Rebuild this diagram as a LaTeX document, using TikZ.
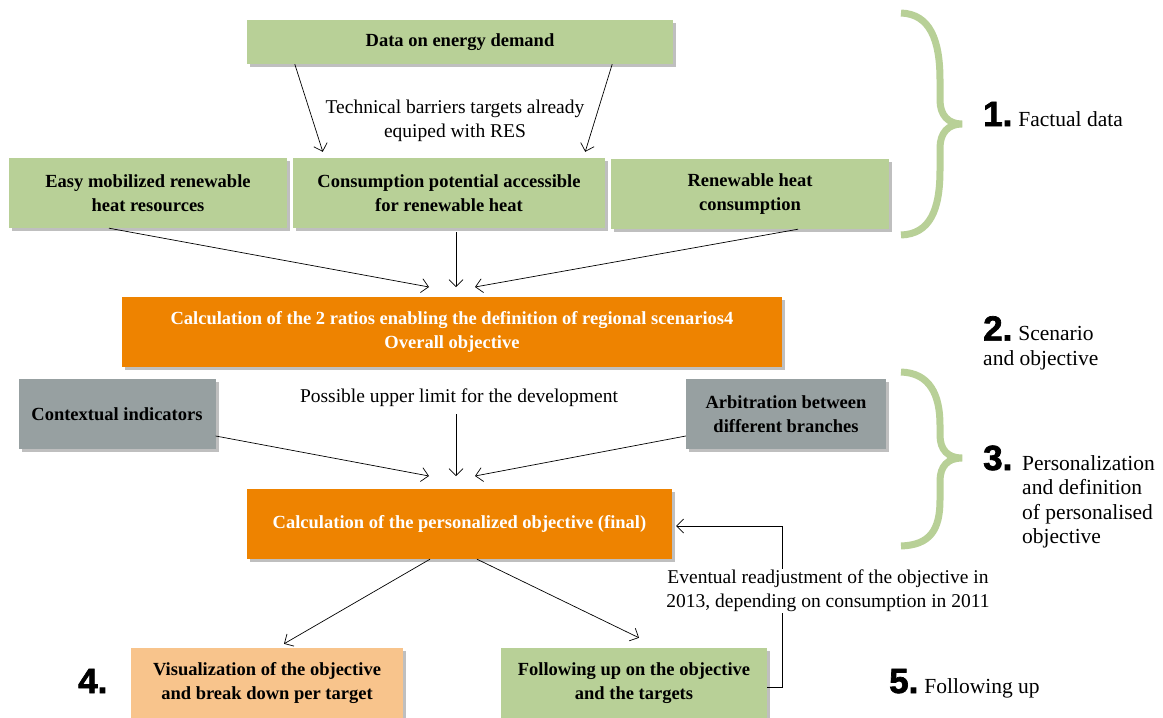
\documentclass[tikz,border=0pt]{standalone}
\usepackage{fontspec}
\setmainfont{Liberation Serif}
\newfontfamily\numfont[BoldFeatures={FakeBold=2}]{Liberation Sans}
\usetikzlibrary{shadows,arrows.meta}
\definecolor{leaf}{RGB}{184,208,151}
\definecolor{pumpkin}{RGB}{238,131,0}
\definecolor{slate}{RGB}{151,160,161}
\definecolor{peach}{RGB}{248,196,140}
\newcommand\bignum[1]{{\numfont\bfseries\fontsize{35}{35}\selectfont #1}}

\begin{document}
\begin{tikzpicture}[x=1pt,y=-1pt]
			\tikzset{
			  BoxStyle/.style = { inner sep=2pt, align=center,
			                      font = \bfseries\fontsize{18.5}{24}\selectfont,
			                      drop shadow = {shadow xshift=3pt, shadow yshift=-3pt,
			                                     fill=black, opacity=.25} },
			  GreenBox/.style = { BoxStyle, fill=leaf },
			  OrangeBox/.style = { BoxStyle, fill=pumpkin, text=white },
			  GreyBox/.style = { BoxStyle, fill=slate },
			  PeachBox/.style = { BoxStyle, fill=peach },
			  NoteStyle/.style = { align=center, inner sep=1pt,
			                       font = \fontsize{19.5}{24}\selectfont },
			  StepStyle/.style = { inner sep=0pt, align=left,
			                       font = \fontsize{21.5}{24.5}\selectfont },
			  EdgeStyle/.style = { line width=0.7pt,
			                       -{Straight Barb[length=7pt,width=14pt]} },
			  BraceStyle/.style = { draw=leaf, line width=7pt } }
			\useasboundingbox (0,0) rectangle (1163,718);
			\node[GreenBox, minimum width=426pt, minimum height=44pt] (demand) at (460,42) {Data on energy demand};
			\node[GreenBox, minimum width=278pt, minimum height=70pt] (mobil) at (148,193) {Easy mobilized renewable\\heat resources};
			\node[GreenBox, minimum width=312pt, minimum height=70pt] (potential) at (449,193) {Consumption potential accessible\\for renewable heat};
			\node[GreenBox, minimum width=278pt, minimum height=70pt] (renewcons) at (750,194) {Renewable heat\\consumption};
			\node[OrangeBox, minimum width=660pt, minimum height=70pt] (ratios) at (452,332) {Calculation of the 2 ratios enabling the definition of regional scenarios4\\Overall objective};
			\node[GreyBox, minimum width=197pt, minimum height=70pt] (context) at (117,414) {Contextual indicators};
			\node[GreyBox, minimum width=200pt, minimum height=70pt] (arbitr) at (786,414) {Arbitration between\\different branches};
			\node[OrangeBox, minimum width=425pt, minimum height=70pt] (final) at (459.5,524) {Calculation of the personalized objective (final)};
			\node[PeachBox, minimum width=272pt, minimum height=70pt] (visual) at (267,683) {Visualization of the objective\\and break down per target};
			\node[GreenBox, minimum width=266pt, minimum height=70pt] (follow) at (634,683) {Following up on the objective\\and the targets};
			\node[NoteStyle] (barriers) at (455,121) {Technical barriers targets already\\equiped with RES};
			\node[NoteStyle] (limit) at (459,398) {Possible upper limit for the development};
			\coordinate (hub1) at (456,287);
			\coordinate (hub2) at (456,476);
			\draw[EdgeStyle] ([xshift=48pt]demand.south west) -- ([xshift=30pt,yshift=6pt]potential.north west);
			\draw[EdgeStyle] ([xshift=-61pt]demand.south east) -- ([xshift=-20pt,yshift=6pt]potential.north east);
			\draw[EdgeStyle] ([xshift=-39pt]mobil.south) -- ([xshift=-27pt]hub1);
			\draw[EdgeStyle] ([yshift=-4pt]hub1 |- potential.south) -- (hub1);
			\draw[EdgeStyle] ([xshift=48pt]renewcons.south) -- ([xshift=19pt]hub1);
			\draw[EdgeStyle] ([yshift=-22pt]context.east) -- ([xshift=-27pt]hub2);
			\draw[EdgeStyle] ([yshift=-6pt]hub2 |- limit.south) -- (hub2);
			\draw[EdgeStyle] ([yshift=-22pt]arbitr.west) -- ([xshift=19pt]hub2);
			\draw[EdgeStyle] ([xshift=-29.5pt]final.south) -- ([xshift=17pt,yshift=4pt]visual.north);
			\draw[EdgeStyle] ([xshift=17.5pt]final.south) -- ([xshift=5pt,yshift=10pt]follow.north);
			\draw[EdgeStyle] ([yshift=-4pt]follow.east) -- ++(15,0) |- ([xshift=4pt,yshift=-2pt]final.east);
			\node[NoteStyle, fill=white] (readjust) at (828,591) {Eventual readjustment of the objective in\\2013, depending on consumption in 2011};
			\draw[BraceStyle] (901,13) .. controls (930,14) and (940,40) .. (940,80) -- (940,100)
			  .. controls (940,115) and (948,124) .. (962,124)
			  .. controls (948,124) and (940,133) .. (940,148) -- (940,170)
			  .. controls (940,210) and (930,234) .. (901,235);
			\draw[BraceStyle] (901,372) .. controls (930,373) and (940,395) .. (940,425) -- (940,435)
			  .. controls (940,450) and (948,458) .. (962,458)
			  .. controls (948,458) and (940,466) .. (940,481) -- (940,500)
			  .. controls (940,530) and (930,545) .. (901,546);
			\node[StepStyle, anchor=base west] (step1) at (983,126) {\bignum{1.}\hspace{6pt}Factual data};
			\node[StepStyle, anchor=north west] (step2) at (983,316) {\bignum{2.}\hspace{6pt}Scenario\\and objective};
			\node[StepStyle, anchor=base west] (step3) at (983,470) {\bignum{3.}};
			\node[StepStyle, anchor=north west] (step3text) at (1022,455) {Personalization\\and definition\\of personalised\\objective};
			\node[StepStyle, anchor=base west] (step4) at (78,693) {\bignum{4.}};
			\node[StepStyle, anchor=base west] (step5) at (889,693) {\bignum{5.}\hspace{6pt}Following up};
		\end{tikzpicture}
\end{document}
